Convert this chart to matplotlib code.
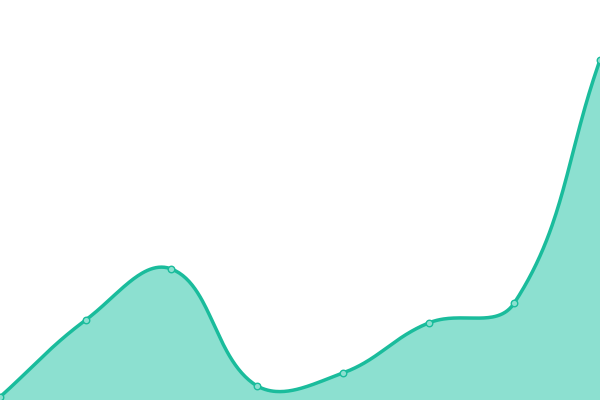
import numpy as np
import matplotlib
matplotlib.use("Agg")
from matplotlib import pyplot as plt

# data (y axis runs 0..400)
x_labels = ["A", "B", "C", "D", "E", "F", "G", "H"]
valores = [3, 80, 131, 14, 27, 77, 97, 340]

LINHA = "#1abc9c"
PREENCH = "#8ce0d0"
W, H = 600, 400
Y_MAX = 400


def controles(pontos, tensao=0.4):
    # bezier control points like chart.js splineCurve
    n = len(pontos)
    ctrl = []
    for i in range(n):
        ant = pontos[max(i - 1, 0)]
        atual = pontos[i]
        prox = pontos[min(i + 1, n - 1)]
        d01 = np.hypot(*(atual - ant))
        d12 = np.hypot(*(prox - atual))
        tot = d01 + d12
        s01 = d01 / tot if tot else 0
        s12 = d12 / tot if tot else 0
        fa = tensao * s01
        fb = tensao * s12
        c_ant = atual - fa * (prox - ant)
        c_prox = atual + fb * (prox - ant)
        c_ant[1] = np.clip(c_ant[1], 0, H)
        c_prox[1] = np.clip(c_prox[1], 0, H)
        ctrl.append((c_ant, c_prox))
    return ctrl


def curva(pontos):
    ctrl = controles(pontos)
    t = np.linspace(0, 1, 60)[:, None]
    segs = []
    for i in range(len(pontos) - 1):
        p0 = pontos[i]
        p1 = ctrl[i][1]
        p2 = ctrl[i + 1][0]
        p3 = pontos[i + 1]
        b = ((1 - t) ** 3) * p0 + 3 * ((1 - t) ** 2) * t * p1 + 3 * (1 - t) * t ** 2 * p2 + t ** 3 * p3
        segs.append(b)
    return np.vstack(segs)


fig = plt.figure(figsize=(6, 4), dpi=100)
ax = fig.add_axes([0, 0, 1, 1])
ax.set_xlim(0, W)
ax.set_ylim(0, H)
ax.axis("off")

xs = np.linspace(0, W, len(valores))
ys = np.array(valores) / Y_MAX * H
pontos = np.column_stack([xs, ys]).astype(float)
c = curva(pontos)

ax.fill_between(c[:, 0], 0, c[:, 1], color=PREENCH, lw=0, zorder=1)
ax.plot(c[:, 0], c[:, 1], color=LINHA, lw=2.5, solid_capstyle="round", zorder=2)
ax.scatter(xs, ys, s=22, facecolor=PREENCH, edgecolor=LINHA, linewidth=1, zorder=3, clip_on=False)

fig.savefig("out.png", dpi=100)
